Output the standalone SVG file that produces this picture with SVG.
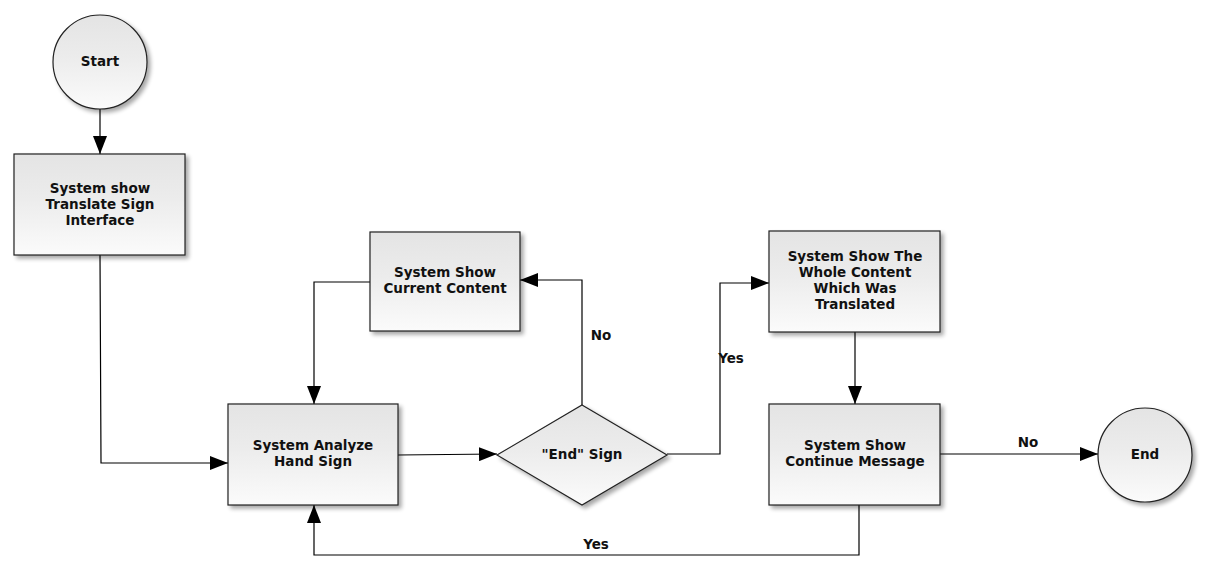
<svg xmlns="http://www.w3.org/2000/svg" width="1207" height="572" viewBox="0 0 1207 572">
<defs>
<linearGradient id="g" x1="0" y1="0" x2="0" y2="1">
<stop offset="0" stop-color="#e4e4e4"/>
<stop offset="0.45" stop-color="#ececec"/>
<stop offset="1" stop-color="#fbfbfb"/>
</linearGradient>
<filter id="sh" x="-10%" y="-10%" width="130%" height="130%">
<feGaussianBlur in="SourceAlpha" stdDeviation="2"/>
<feOffset dx="3" dy="3" result="b"/>
<feComponentTransfer><feFuncA type="linear" slope="0.35"/></feComponentTransfer>
<feMerge><feMergeNode/><feMergeNode in="SourceGraphic"/></feMerge>
</filter>
<marker id="arr" viewBox="0 0 18 14" refX="18" refY="7" markerWidth="18" markerHeight="14" markerUnits="userSpaceOnUse" orient="auto">
<path d="M0,0 L18,7 L0,14 Z" fill="#000"/>
</marker>
</defs>
<style>
.n{fill:url(#g);stroke:#222;stroke-width:1.2;filter:url(#sh)}
.t{font-family:"DejaVu Sans",Verdana,sans-serif;font-weight:bold;font-size:13.5px;fill:#111;text-anchor:middle}
.c{fill:none;stroke:#000;stroke-width:1.2;marker-end:url(#arr)}
</style>
<rect width="1207" height="572" fill="#fff"/>
<g id="connectors">
<path class="c" d="M100,109 L100,154"/>
<path class="c" d="M100,255 L101,463 L228,463"/>
<path class="c" d="M370,282 L314,282 L314,404"/>
<path class="c" d="M398,455 L497,454"/>
<path class="c" d="M582,405 L582,280 L520,280"/>
<path class="c" d="M667,454 L720,454 L720,283 L769,283"/>
<path class="c" d="M855,332 L855,404"/>
<path class="c" d="M940,454 L1098,454"/>
<path class="c" d="M859,505 L859,555 L314,555 L314,505"/>
<text class="t" x="601" y="340">No</text>
<text class="t" x="731" y="363">Yes</text>
<text class="t" x="1028" y="447">No</text>
<text class="t" x="596" y="549">Yes</text>
</g>
<g id="start">
<circle class="n" cx="100" cy="62" r="47"/>
<text class="t" x="100" y="66">Start</text>
</g>
<g id="show-interface">
<rect class="n" x="14" y="154" width="171" height="101"/>
<text class="t" x="100" y="193">System show</text>
<text class="t" x="100" y="209">Translate Sign</text>
<text class="t" x="100" y="225">Interface</text>
</g>
<g id="current-content">
<rect class="n" x="370" y="232" width="150" height="99"/>
<text class="t" x="445" y="277">System Show</text>
<text class="t" x="445" y="293">Current Content</text>
</g>
<g id="analyze">
<rect class="n" x="228" y="404" width="170" height="101"/>
<text class="t" x="313" y="450">System Analyze</text>
<text class="t" x="313" y="466">Hand Sign</text>
</g>
<g id="end-sign">
<polygon class="n" points="582,405 667,455 582,505 497,455"/>
<text class="t" x="582" y="459">"End" Sign</text>
</g>
<g id="whole-content">
<rect class="n" x="769" y="231" width="171" height="101"/>
<text class="t" x="855" y="261">System Show The</text>
<text class="t" x="855" y="277">Whole Content</text>
<text class="t" x="855" y="293">Which Was</text>
<text class="t" x="855" y="309">Translated</text>
</g>
<g id="continue">
<rect class="n" x="769" y="404" width="171" height="101"/>
<text class="t" x="855" y="450">System Show</text>
<text class="t" x="855" y="466">Continue Message</text>
</g>
<g id="end">
<circle class="n" cx="1145" cy="455" r="47"/>
<text class="t" x="1145" y="459">End</text>
</g>
</svg>
